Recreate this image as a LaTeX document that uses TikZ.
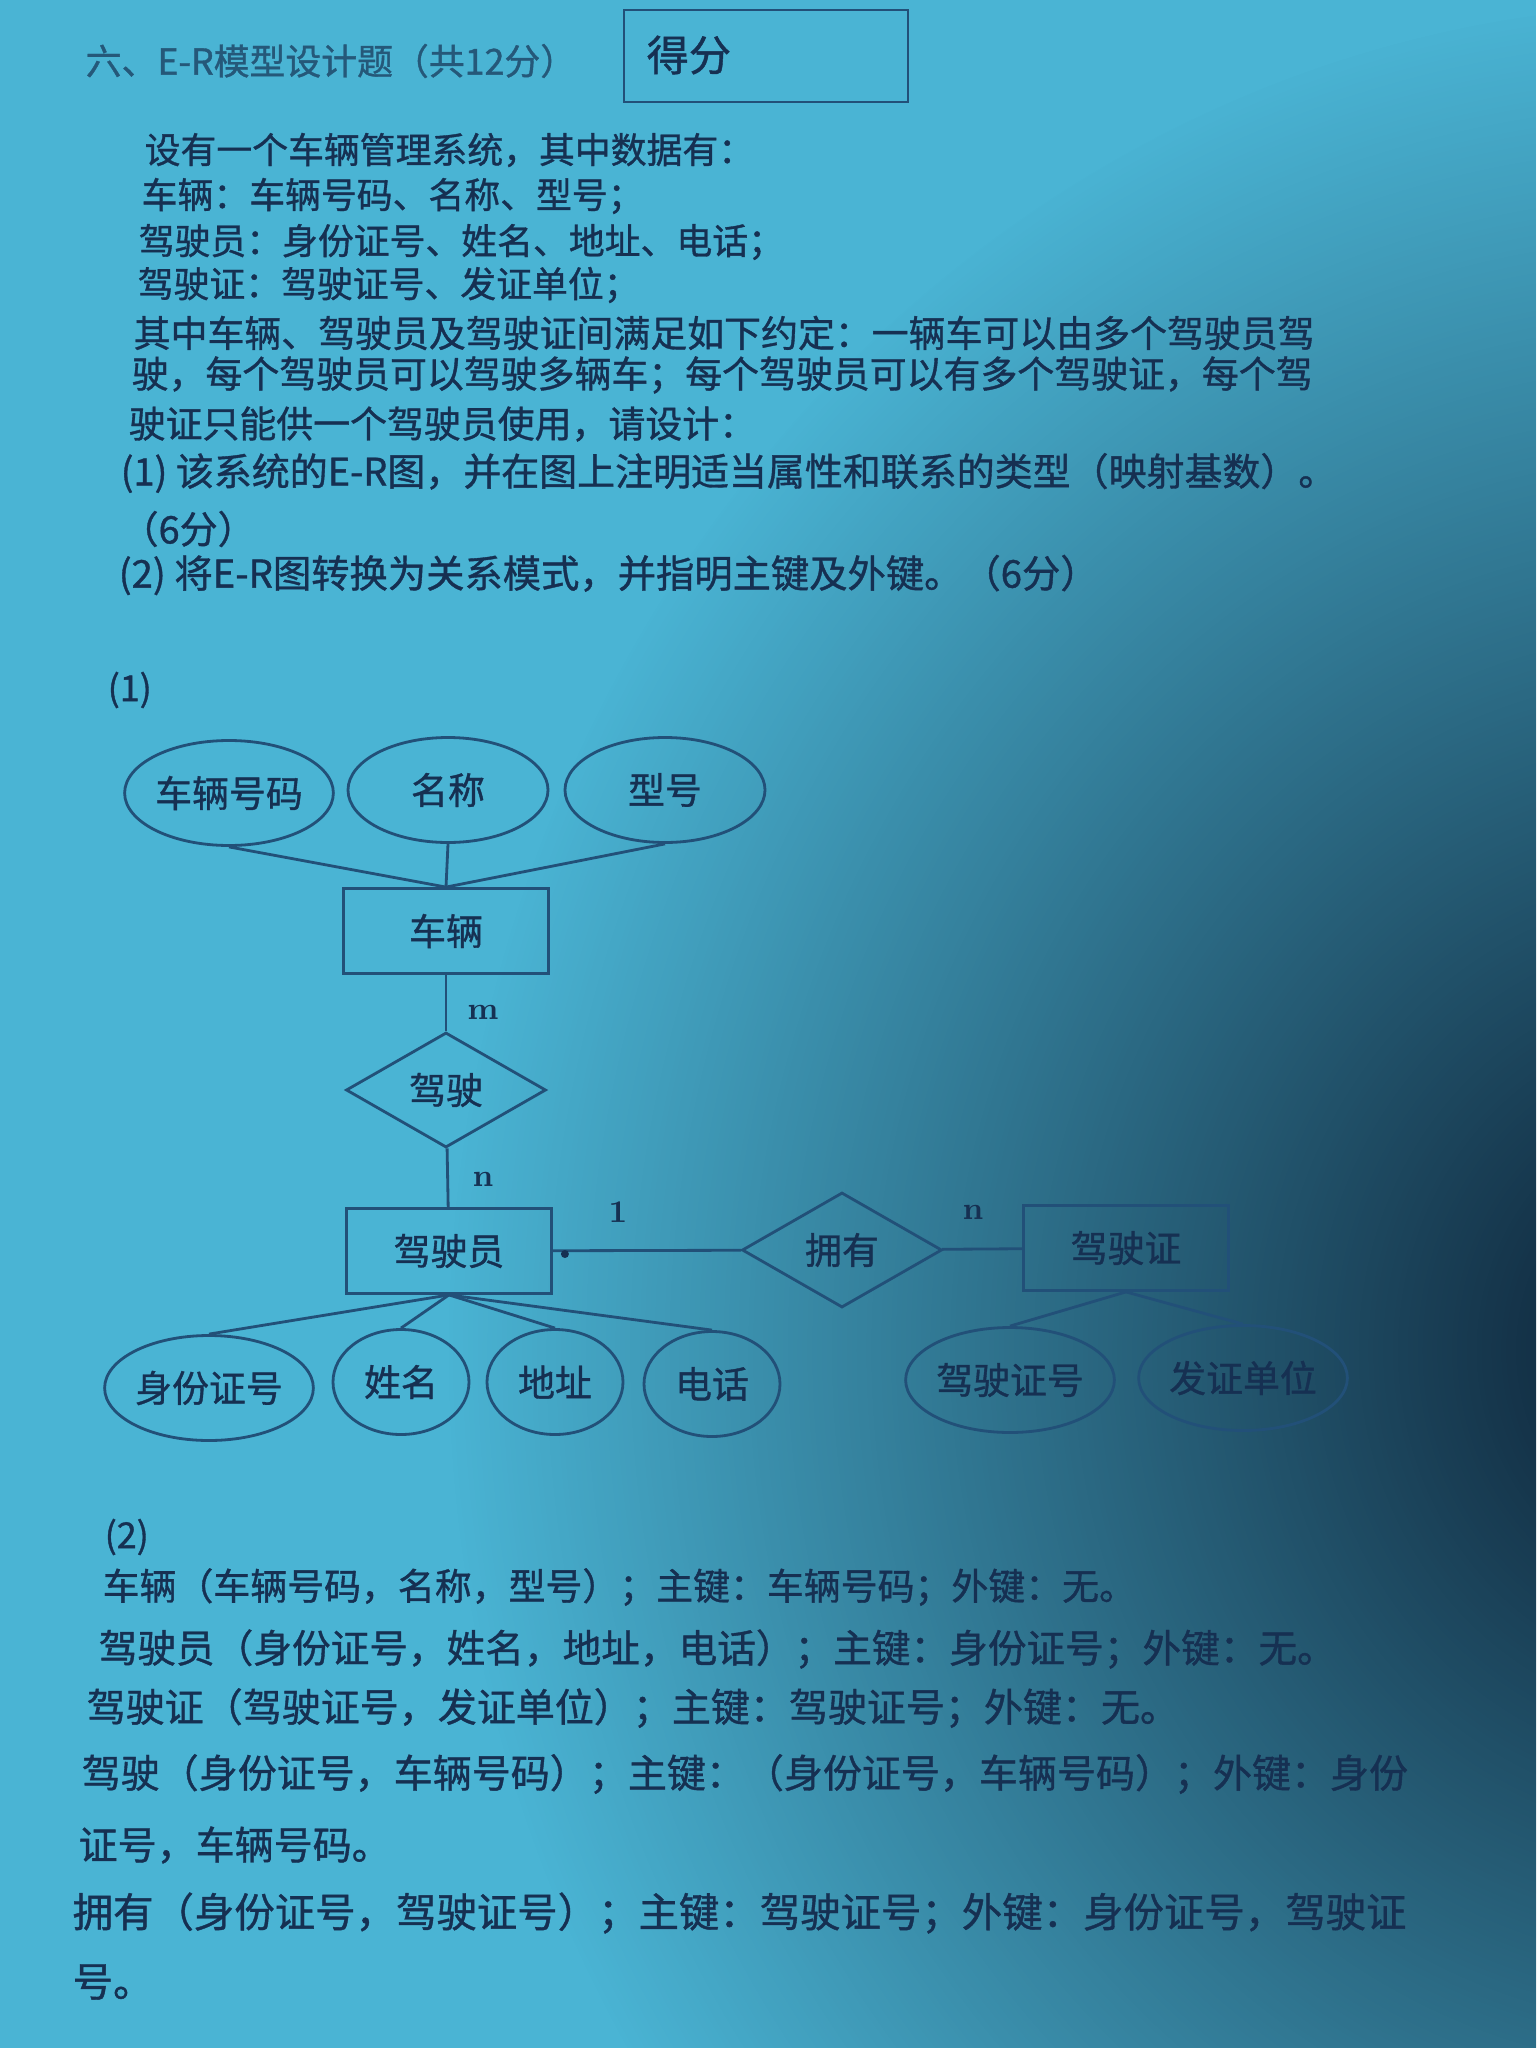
\documentclass[tikz,border=0pt]{standalone}
\usepackage{fontspec}
\newfontfamily\cjk[FakeBold=1]{Noto Sans CJK SC}
\usetikzlibrary{shapes.geometric, fadings}

\definecolor{paper}{RGB}{74,180,212}
\definecolor{shadow}{RGB}{12,30,50}
\definecolor{ink}{RGB}{22,48,82}
\definecolor{pen}{RGB}{34,80,120}

\tikzfading[name=darkfade, inner color=transparent!0, outer color=transparent!100]

\tikzset{
  line/.style={anchor=west, inner sep=0pt, text=ink, font=\cjk\fontsize{10.2}{12}\selectfont},
  answer/.style={line, font=\cjk\fontsize{11}{13}\selectfont},
  attr/.style={ellipse, draw=pen, line width=0.8pt, inner sep=0pt,
    minimum width=20mm, minimum height=10.5mm, text=ink,
    font=\cjk\fontsize{10.5}{12}\selectfont},
  entity/.style={rectangle, draw=pen, line width=0.8pt,
    minimum width=20.5mm, minimum height=8.5mm, text=ink,
    font=\cjk\fontsize{10.5}{12}\selectfont},
  rel/.style={diamond, draw=pen, line width=0.8pt, inner sep=0pt,
    minimum width=20mm, minimum height=11.5mm, text=ink,
    font=\cjk\fontsize{10.5}{12}\selectfont},
  link/.style={draw=pen, line width=0.8pt},
  card/.style={text=ink, inner sep=1pt, font=\bfseries\fontsize{9}{10}\selectfont}
}

\begin{document}
\begin{tikzpicture}[x=0.1mm, y=-0.1mm]

  % page and lighting
  \useasboundingbox (0,0) rectangle (1536,2048);
  \fill[paper] (0,0) rectangle (1536,2048);
  \begin{scope}
    \clip (0,0) rectangle (1536,2048);
    \fill[shadow, path fading=darkfade] (1700,1350) ellipse [x radius=1250, y radius=1350];
  \end{scope}

  % heading and score box
  \node[line, text=ink!70!paper] (hdr) at (85,61) {六、E-R模型设计题（共12分）};
  \node[draw=pen, line width=0.7pt, minimum width=28.4mm, minimum height=9.2mm] (scorebox) at (766,56) {};
  \node[line, font=\cjk\fontsize{12}{14}\selectfont] (score) at (646,55) {得分};

  % question
  \node[line] (q1) at (144,150) {设有一个车辆管理系统，其中数据有：};
  \node[line] (q2) at (141,196) {车辆：车辆号码、名称、型号；};
  \node[line] (q3) at (138,242) {驾驶员：身份证号、姓名、地址、电话；};
  \node[line] (q4) at (137,285) {驾驶证：驾驶证号、发证单位；};
  \node[line, font=\cjk\fontsize{10.5}{12}\selectfont] (q5) at (133,333) {其中车辆、驾驶员及驾驶证间满足如下约定：一辆车可以由多个驾驶员驾};
  \node[line, font=\cjk\fontsize{10.5}{12}\selectfont] (q6) at (131,375) {驶，每个驾驶员可以驾驶多辆车；每个驾驶员可以有多个驾驶证，每个驾};
  \node[line, font=\cjk\fontsize{10.5}{12}\selectfont] (q7) at (128,424) {驶证只能供一个驾驶员使用，请设计：};
  \node[line, font=\cjk\fontsize{10.8}{12}\selectfont] (q8) at (120,473) {(1) 该系统的E-R图，并在图上注明适当属性和联系的类型（映射基数）。};
  \node[line, font=\cjk\fontsize{10.8}{12}\selectfont] (q9) at (120,529) {（6分）};
  \node[line, font=\cjk\fontsize{10.9}{12}\selectfont] (q10) at (118,575) {(2) 将E-R图转换为关系模式，并指明主键及外键。（6分）};

  % E-R diagram
  \node[line] (part1) at (107,690) {(1)};

  \node[attr] (cph) at (229,793) {车辆号码};
  \node[attr] (cmc) at (448,790) {名称};
  \node[attr] (cxh) at (665,790) {型号};
  \node[entity] (car) at (446,931) {车辆};
  \node[rel] (drive) at (446,1090) {驾驶};
  \node[entity] (drv) at (449,1251) {驾驶员};
  \node[rel] (own) at (842,1250) {拥有};
  \node[entity] (lic) at (1126,1248) {驾驶证};

  \node[attr] (sfz) at (209,1388) {身份证号};
  \node[attr, minimum width=13.6mm] (xm) at (401,1382) {姓名};
  \node[attr, minimum width=13.6mm] (dz) at (555,1382) {地址};
  \node[attr, minimum width=13.6mm] (dh) at (712,1384) {电话};
  \node[attr] (jzh) at (1010,1380) {驾驶证号};
  \node[attr] (fzdw) at (1243,1378) {发证单位};

  \draw[link] (cph.south) -- (car.north);
  \draw[link] (cmc.south) -- (car.north);
  \draw[link] (cxh.south) -- (car.north);
  \draw[link] (car) -- (drive);
  \draw[link] (drive) -- (drv);
  \draw[link] (drv) -- (own);
  \draw[link] (own) -- (lic);
  \foreach \a in {sfz, xm, dz, dh}
    \draw[link] (drv.south) -- (\a.north);
  \foreach \a in {jzh, fzdw}
    \draw[link] (lic.south) -- (\a.north);

  \node[card] (cardm) at (483,1012) {m};
  \node[card] (cardn) at (483,1179) {n};
  \node[card] (cardone) at (618,1212) {1};
  \node[card] (cardlic) at (973,1212) {n};
  \fill[ink] (drv.east) ++(12,3) circle [radius=4];

  % relational schema
  \node[line] (part2) at (104,1537) {(2)};
  \node[answer, font=\cjk\fontsize{10.5}{13}\selectfont] (a1) at (102,1587) {车辆（车辆号码，名称，型号）；主键：车辆号码；外键：无。};
  \node[answer] (a2) at (98,1649) {驾驶员（身份证号，姓名，地址，电话）；主键：身份证号；外键：无。};
  \node[answer, font=\cjk\fontsize{11.1}{13}\selectfont] (a3) at (86,1708) {驾驶证（驾驶证号，发证单位）；主键：驾驶证号；外键：无。};
  \node[answer, font=\cjk\fontsize{11.1}{13}\selectfont] (a4) at (81,1774) {驾驶（身份证号，车辆号码）；主键：（身份证号，车辆号码）；外键：身份};
  \node[answer, font=\cjk\fontsize{11.1}{13}\selectfont] (a5) at (78,1845) {证号，车辆号码。};
  \node[answer, font=\cjk\fontsize{11.5}{13}\selectfont] (a6) at (72,1913) {拥有（身份证号，驾驶证号）；主键：驾驶证号；外键：身份证号，驾驶证};
  \node[answer, font=\cjk\fontsize{11.5}{13}\selectfont] (a7) at (72,1982) {号。};

\end{tikzpicture}
\end{document}
